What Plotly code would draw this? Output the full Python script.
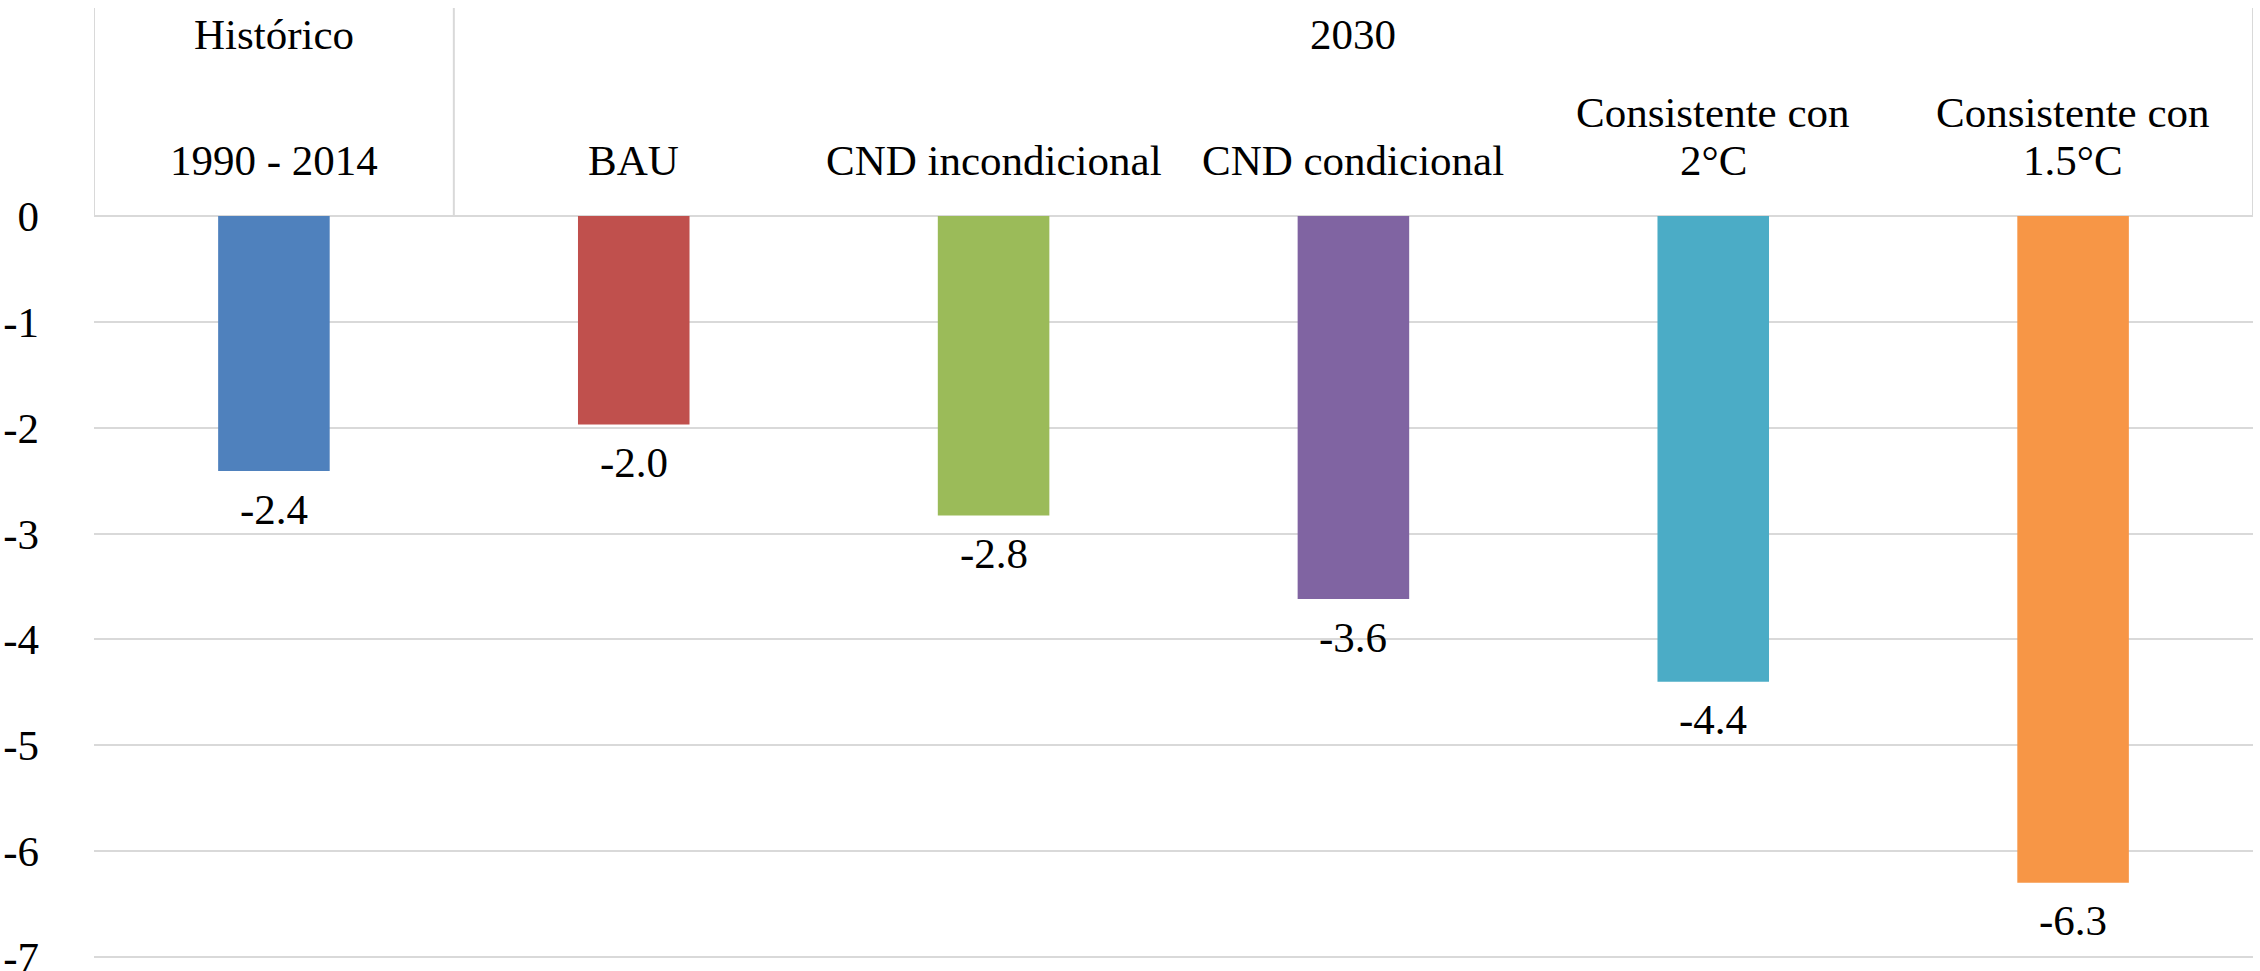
import plotly.graph_objects as go

# ---- data ----
groups = ["Histórico", "2030", "2030", "2030", "2030", "2030"]
labels_line1 = ["", "", "", "", "Consistente con", "Consistente con"]
labels_line2 = ["1990 - 2014", "BAU", "CND incondicional", "CND condicional", "2°C", "1.5°C"]
categories = ["1990 - 2014", "BAU", "CND incondicional", "CND condicional",
              "Consistente con 2°C", "Consistente con 1.5°C"]
values = [-2.41, -1.97, -2.83, -3.62, -4.40, -6.30]
colors = ["#4F81BD", "#C0504D", "#9BBB59", "#8064A2", "#4BACC6", "#F79646"]
y_ticks = [0, -1, -2, -3, -4, -5, -6, -7]

FONT = "Liberation Serif"
FS = 43
GRID = "#d9d9d9"

W, H = 2260, 971
L, R, T, B = 94, 7, 216, 11
plot_h = H - T - B

fig = go.Figure()
fig.add_trace(go.Bar(
    x=list(range(len(categories))),
    y=values,
    marker=dict(color=colors, line=dict(width=0)),
    hovertext=categories,
    showlegend=False,
))

fig.update_layout(
    template="none",
    width=W, height=H,
    margin=dict(l=L, r=R, t=T, b=B, pad=0, autoexpand=False),
    paper_bgcolor="white", plot_bgcolor="white",
    bargap=0.69,
    font=dict(family=FONT, size=FS, color="black"),
    xaxis=dict(range=[-0.5, len(categories) - 0.5], showticklabels=False, automargin=False,
               showgrid=False, zeroline=False, showline=False, fixedrange=True),
    yaxis=dict(range=[-7.03, 0.0], tickvals=y_ticks, ticktext=[str(v) for v in y_ticks],
               automargin=False, ticklabeloverflow="allow",
               showgrid=True, gridcolor=GRID, gridwidth=2,
               zeroline=True, zerolinecolor=GRID, zerolinewidth=2,
               showline=False, ticks="", ticklabelstandoff=54,
               tickfont=dict(family=FONT, size=FS, color="black")),
)

# value labels below each bar end
for i, v in enumerate(values):
    fig.add_annotation(x=i, xref="x", y=v, yref="y", yanchor="middle", yshift=-38,
                       text=f"{v:.1f}", showarrow=False,
                       font=dict(family=FONT, size=FS, color="black"))

def px_to_paper(dy):
    return 1 + dy / plot_h

# header text: inner level
for i in range(len(categories)):
    if labels_line1[i]:
        fig.add_annotation(x=i, xref="x", y=1, yref="paper", yanchor="middle",
                           yshift=216 - 112, text=labels_line1[i], showarrow=False,
                           font=dict(family=FONT, size=FS, color="black"))
    fig.add_annotation(x=i, xref="x", y=1, yref="paper", yanchor="middle",
                       yshift=216 - 160, text=labels_line2[i], showarrow=False,
                       font=dict(family=FONT, size=FS, color="black"))

# header text: outer level (group names) and dividers
grp_spans = []
start = 0
for i in range(1, len(groups) + 1):
    if i == len(groups) or groups[i] != groups[start]:
        grp_spans.append((groups[start], start, i - 1))
        start = i
for name, a, b in grp_spans:
    fig.add_annotation(x=(a + b) / 2, xref="x", y=1, yref="paper", yanchor="middle",
                       yshift=216 - 34, text=name, showarrow=False,
                       font=dict(family=FONT, size=FS, color="black"))

div_pos = [a - 0.5 for _, a, _ in grp_spans] + [len(groups) - 0.5]
for xp in div_pos:
    fig.add_shape(type="line", xref="x", yref="paper", x0=xp, x1=xp,
                  y0=1, y1=px_to_paper(208), line=dict(color=GRID, width=2),
                  layer="below")

fig.write_html("out.html",
               config={"displayModeBar": False},
               post_script="document.body.style.margin='0';document.body.style.overflow='hidden';")
